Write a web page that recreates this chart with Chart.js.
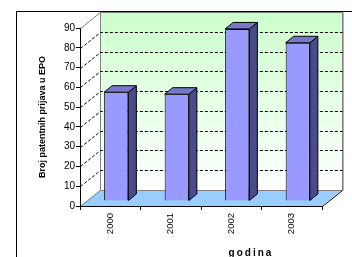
<!DOCTYPE html>
<html>
<head>
<meta charset="utf-8">
<script src="https://cdn.jsdelivr.net/npm/chart.js@4"></script>
<style>
    html, body { margin: 0; padding: 0; background: #fff; }
    #okvir { width: 352px; height: 257px; }
</style>
</head>
<body>
<div id="okvir"><canvas id="graf"></canvas></div>
<script>
// podaci
const godine = ['2000', '2001', '2002', '2003'];
const prijave = [55, 54, 87, 80];
const yMin = 0, yMax = 90, yKorak = 10;

const naslovY = 'Broj patentnih prijava u EPO';
const naslovX = 'godina';

// 3D pomaci (zidovi i stupci)
const DX = 20, DY = 16;
const STUP_DX = 6, STUP_DY = 5;
const DUB_X = 8, DUB_Y = 6.5;

const pozadina = {
    id: 'pozadina',
    beforeDraw(chart) {
        const ctx = chart.ctx;
        const a = chart.chartArea;
        const sy = chart.scales.y;
        ctx.save();
        ctx.fillStyle = '#fff';
        ctx.fillRect(0, 0, chart.width, chart.height);

        // zadnji zid
        const g = ctx.createLinearGradient(0, a.top - DY, 0, a.bottom - DY);
        g.addColorStop(0, '#ccffcc');
        g.addColorStop(1, '#ffffff');
        ctx.fillStyle = g;
        ctx.fillRect(a.left + DX, a.top - DY, a.right - a.left, a.bottom - a.top);

        // pod
        ctx.beginPath();
        ctx.moveTo(a.left, a.bottom);
        ctx.lineTo(a.right, a.bottom);
        ctx.lineTo(a.right + DX, a.bottom - DY);
        ctx.lineTo(a.left + DX, a.bottom - DY);
        ctx.closePath();
        ctx.fillStyle = '#99ccff';
        ctx.fill();

        // sivi rubovi
        ctx.strokeStyle = '#808080';
        ctx.lineWidth = 1;
        const L = Math.round(a.left) + 0.5, R = Math.round(a.right) + 0.5;
        const T = Math.round(a.top) + 0.5, B = Math.round(a.bottom) + 0.5;
        ctx.beginPath();
        ctx.moveTo(L, T); ctx.lineTo(L + DX, T - DY);
        ctx.lineTo(R + DX, T - DY); ctx.lineTo(R + DX, B - DY);
        ctx.moveTo(L + DX, T - DY); ctx.lineTo(L + DX, B - DY);
        ctx.lineTo(R + DX, B - DY);
        ctx.moveTo(L, B); ctx.lineTo(L + DX, B - DY);
        ctx.stroke();
        ctx.beginPath();
        ctx.moveTo(R + DX + 1, T - DY); ctx.lineTo(R + DX + 1, B - DY);
        ctx.strokeStyle = '#b0b0b0';
        ctx.stroke();

        // desni rub poda
        ctx.strokeStyle = '#000';
        ctx.beginPath();
        ctx.moveTo(R, B); ctx.lineTo(R + DX, B - DY);
        ctx.stroke();

        // isprekidane linije mreže
        ctx.setLineDash([3, 2]);
        ctx.strokeStyle = '#000';
        for (let v = yMin + yKorak; v < yMax; v += yKorak) {
            const py = Math.round(sy.getPixelForValue(v)) + 0.5;
            ctx.beginPath();
            ctx.moveTo(L, py);
            ctx.lineTo(L + DX, py - DY);
            ctx.lineTo(R + DX, py - DY);
            ctx.stroke();
        }
        ctx.restore();
    },
    afterDraw(chart) {
        const ctx = chart.ctx;
        ctx.save();
        // okvir
        ctx.strokeStyle = '#000';
        ctx.lineWidth = 1;
        ctx.beginPath();
        ctx.moveTo(16.5, chart.height);
        ctx.lineTo(16.5, 11.5);
        ctx.lineTo(chart.width, 11.5);
        ctx.stroke();
        // naslov x osi
        ctx.fillStyle = '#000';
        ctx.font = 'bold 10px Arial, "Liberation Sans", sans-serif';
        ctx.letterSpacing = '2px';
        ctx.textAlign = 'center';
        ctx.textBaseline = 'alphabetic';
        ctx.fillText(naslovX, 251, 256);
        ctx.restore();
    }
};

const kocke = {
    id: 'kocke',
    beforeDatasetsDraw(chart) {
        chart.ctx.save();
        chart.ctx.translate(STUP_DX, -STUP_DY);
    },
    afterDatasetsDraw(chart) {
        const ctx = chart.ctx;
        ctx.lineWidth = 1;
        ctx.strokeStyle = '#000';
        ctx.lineJoin = 'round';
        chart.getDatasetMeta(0).data.forEach(bar => {
            const p = bar.getProps(['x', 'y', 'base', 'width'], true);
            const l = p.x - p.width / 2, r = p.x + p.width / 2;
            // bočna strana
            ctx.beginPath();
            ctx.moveTo(r, p.y);
            ctx.lineTo(r + DUB_X, p.y - DUB_Y);
            ctx.lineTo(r + DUB_X, p.base - DUB_Y);
            ctx.lineTo(r, p.base);
            ctx.closePath();
            ctx.fillStyle = '#4b4b8c';
            ctx.fill();
            ctx.stroke();
            // gornja strana
            ctx.beginPath();
            ctx.moveTo(l, p.y);
            ctx.lineTo(l + DUB_X, p.y - DUB_Y);
            ctx.lineTo(r + DUB_X, p.y - DUB_Y);
            ctx.lineTo(r, p.y);
            ctx.closePath();
            ctx.fillStyle = '#7777cc';
            ctx.fill();
            ctx.stroke();
        });
        ctx.restore();
    }
};

new Chart(document.getElementById('graf'), {
    type: 'bar',
    data: {
        labels: godine,
        datasets: [{
            data: prijave,
            backgroundColor: '#9999ff',
            borderColor: '#000',
            borderWidth: 1,
            barPercentage: 0.4,
            categoryPercentage: 1
        }]
    },
    options: {
        responsive: true,
        maintainAspectRatio: false,
        animation: false,
        devicePixelRatio: 1,
        layout: { padding: { top: 28, right: 30, left: 0, bottom: 0 } },
        plugins: { legend: { display: false }, tooltip: { enabled: false } },
        scales: {
            x: {
                ticks: {
                    minRotation: 90, maxRotation: 90, autoSkip: false,
                    font: { family: 'Arial', size: 9.5 }, color: '#000', padding: 3
                },
                grid: { drawOnChartArea: false, tickLength: 4, color: '#000', offset: true },
                border: { color: '#000' },
                afterFit(s) { s.height = 51; }
            },
            y: {
                min: yMin, max: yMax,
                ticks: { stepSize: yKorak, font: { family: 'Arial', size: 10 }, color: '#000', padding: 1 },
                grid: { drawOnChartArea: false, tickLength: 4, color: '#000' },
                border: { color: '#000' },
                title: {
                    display: true, text: naslovY, color: '#000',
                    font: { family: 'Arial', size: 9, weight: 'bold' },
                    padding: { top: 37.6, bottom: 0 }
                },
                afterFit(s) { s.width = 80; }
            }
        }
    },
    plugins: [pozadina, kocke]
});
</script>
</body>
</html>
